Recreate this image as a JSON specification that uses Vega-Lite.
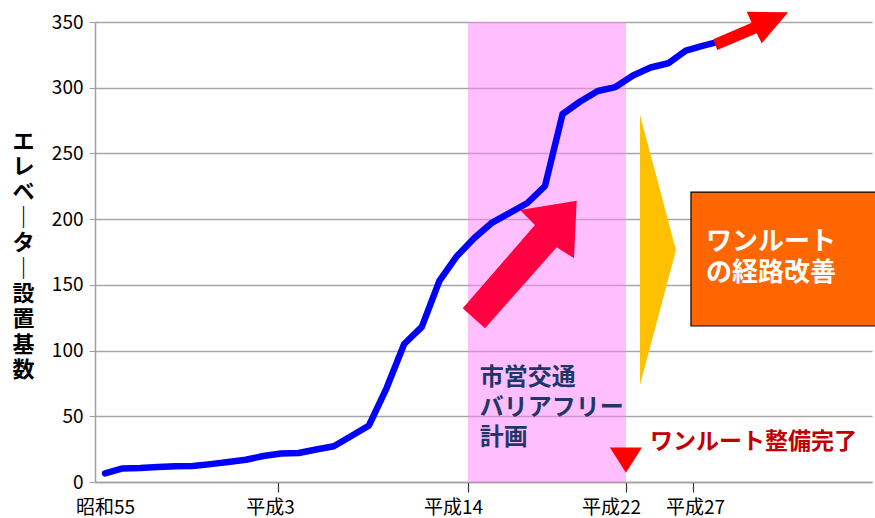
{
  "$schema": "https://vega.github.io/schema/vega-lite/v6.json",
  "width": 777,
  "height": 460,
  "autosize": {"type": "none"},
  "padding": {"left": 95, "top": 22, "right": 3, "bottom": 36},
  "background": "white",
  "config": {"view": {"stroke": null}, "font": "Noto Sans CJK JP"},
  "encoding": {
    "x": {
      "field": "year", "type": "quantitative",
      "scale": {"domain": [1979.432, 2023.58], "nice": false, "zero": false},
      "axis": {
        "title": null,
        "values": [1980, 1989.83, 2000.625, 2009.602, 2013.409],
        "labelExpr": "datum.value < 1985 ? '昭和55' : datum.value < 1995 ? '平成3' : datum.value < 2005 ? '平成14' : datum.value < 2011 ? '平成22' : '平成27'",
        "grid": false,
        "domainColor": "#A0A0A0",
        "domainWidth": 1.5,
        "tickColor": {"condition": {"test": "datum.value < 1985", "value": "transparent"}, "value": "#333333"},
        "tickSize": 10,
        "tickWidth": 1.2,
        "labelFontSize": 19,
        "labelColor": "#000000",
        "labelPadding": 6,
        "labelOffset": {"condition": [
          {"test": "datum.value > 1985 && datum.value < 1995", "value": -8},
          {"test": "datum.value > 1995 && datum.value < 2011", "value": -15},
          {"test": "datum.value > 2011", "value": 2}
        ], "value": 0},
        "labelFlush": false,
        "labelOverlap": false,
        "labelBound": false
      }
    },
    "y": {
      "field": "count", "type": "quantitative",
      "scale": {"domain": [0, 350], "nice": false},
      "axis": {
        "values": [0, 50, 100, 150, 200, 250, 300, 350],
        "title": ["エ", "レ", "ベ", "｜", "タ", "｜", "設", "置", "基", "数"],
        "titleAngle": 0,
        "titleX": -72,
        "titleY": 119,
        "titleAlign": "center",
        "titleBaseline": "middle",
        "titleFontSize": 22,
        "titleFontWeight": "bold",
        "titleLineHeight": 25.4,
        "titleColor": "#000000",
        "labelFontSize": 19,
        "labelColor": "#000000",
        "labelPadding": 6,
        "tickSize": 6,
        "tickColor": "#A0A0A0",
        "domainColor": "#A0A0A0",
        "domainWidth": 1.5,
        "gridColor": "#A6A6A6",
        "gridWidth": 1.5
      }
    }
  },
  "layer": [
    {
      "data": {"values": [{"year": 2000.625, "year_end": 2009.602, "count": 0, "count_end": 350}]},
      "mark": {"type": "rect", "fill": "#FF80FF", "opacity": 0.5},
      "encoding": {
        "x2": {"field": "year_end"},
        "y2": {"field": "count_end"}
      }
    },
    {
      "data": {"values": [
        {"year": 1980, "count": 6.6}, {"year": 1981, "count": 10.3}, {"year": 1982, "count": 10.7},
        {"year": 1983, "count": 11.4}, {"year": 1984, "count": 11.9}, {"year": 1985, "count": 12.2},
        {"year": 1986, "count": 13.6}, {"year": 1987, "count": 15.2}, {"year": 1988, "count": 16.9},
        {"year": 1989, "count": 19.8}, {"year": 1990, "count": 21.7}, {"year": 1991, "count": 22.1},
        {"year": 1992, "count": 24.7}, {"year": 1993, "count": 27.2}, {"year": 1994, "count": 35},
        {"year": 1995, "count": 43}, {"year": 1996, "count": 71.5}, {"year": 1997, "count": 105},
        {"year": 1998, "count": 118}, {"year": 1999, "count": 153}, {"year": 2000, "count": 172},
        {"year": 2001, "count": 185.8}, {"year": 2002, "count": 197.4}, {"year": 2003, "count": 204.7},
        {"year": 2004, "count": 212.3}, {"year": 2005, "count": 225.2}, {"year": 2006, "count": 280},
        {"year": 2007, "count": 289.5}, {"year": 2008, "count": 297.5}, {"year": 2009, "count": 300.5},
        {"year": 2010, "count": 309.3}, {"year": 2011, "count": 315.4}, {"year": 2012, "count": 318.6},
        {"year": 2013, "count": 328.3}, {"year": 2014, "count": 332.1}, {"year": 2015, "count": 335.5}
      ]},
      "mark": {"type": "line", "color": "#0000FF", "strokeWidth": 6.5, "strokeJoin": "round", "strokeCap": "round"}
    },
    {
      "data": {"values": [{"year": 2003.58, "count": 165.9}]},
      "mark": {"type": "point", "filled": true, "opacity": 1, "strokeWidth": 0, "color": "#FF0040",
               "shape": "M-0.716,0.554L0.1875,-0.4875L0,-0.675L0.709,-0.791L0.675,-0.071L0.459,-0.209L-0.4375,0.804Z",
               "size": 25600}
    },
    {
      "data": {"values": [{"year": 2011.42, "count": 176.5}]},
      "mark": {"type": "point", "filled": true, "opacity": 1, "strokeWidth": 0, "color": "#FFC000",
               "shape": "M-0.133,-1L0.133,0L-0.133,1Z", "size": 72900}
    },
    {
      "data": {"values": [{"year": 2013.295, "year_end": 2024.2, "count": 220.6, "count_end": 118.7}]},
      "mark": {"type": "rect", "fill": "#FF6600", "stroke": "#000000", "strokeWidth": 1.2},
      "encoding": {
        "x2": {"field": "year_end"},
        "y2": {"field": "count_end"}
      }
    },
    {
      "data": {"values": [{"year": 2014.15, "count": 176.5, "label": "ワンルート\nの経路改善"}]},
      "mark": {"type": "text", "align": "left", "baseline": "alphabetic", "fontSize": 26, "fontWeight": "bold",
               "color": "#FFFFFF", "lineBreak": "\n", "lineHeight": 31},
      "encoding": {"text": {"field": "label"}}
    },
    {
      "data": {"values": [{"year": 2001.3, "count": 73.5, "label": "市営交通\nバリアフリー\n計画"}]},
      "mark": {"type": "text", "align": "left", "baseline": "alphabetic", "fontSize": 24, "fontWeight": "bold",
               "color": "#1F3767", "lineBreak": "\n", "lineHeight": 30},
      "encoding": {"text": {"field": "label"}}
    },
    {
      "data": {"values": [{"year": 2010.97, "count": 25.1, "label": "ワンルート整備完了"}]},
      "mark": {"type": "text", "align": "left", "baseline": "alphabetic", "fontSize": 23, "fontWeight": "bold",
               "color": "#C00000"},
      "encoding": {"text": {"field": "label"}}
    },
    {
      "data": {"values": [{"year": 2009.6, "count": 16.7}]},
      "mark": {"type": "point", "filled": true, "opacity": 1, "strokeWidth": 0, "color": "#FF0000",
               "shape": "M-1,-0.78L1,-0.78L0,0.8Z", "size": 1024}
    },
    {
      "data": {"values": [{"year": 2016.648, "count": 343.9}]},
      "mark": {"type": "point", "filled": true, "opacity": 1, "strokeWidth": 0, "color": "#FF0000",
               "shape": "M-0.734,0.186L0.034,-0.146L-0.066,-0.366L0.766,-0.354L0.234,0.266L0.134,0.066L-0.654,0.4Z",
               "size": 10000}
    }
  ]
}
